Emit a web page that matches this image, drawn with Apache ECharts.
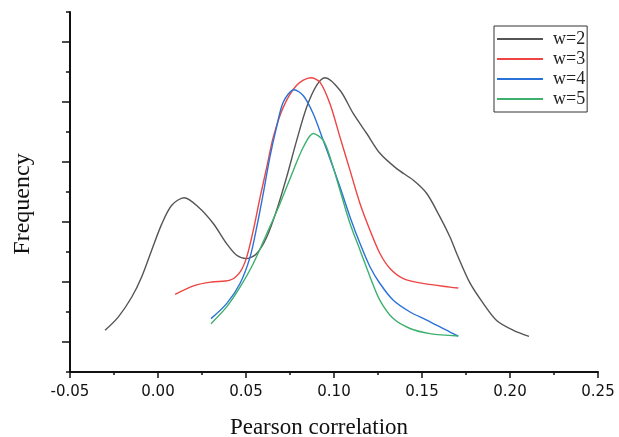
<!DOCTYPE html>
<html>
<head>
<meta charset="utf-8">
<script src="https://cdn.jsdelivr.net/npm/echarts@6/dist/echarts.min.js"></script>
<style>html,body{margin:0;padding:0;background:#fff}#c{width:619px;height:437px}</style>
</head>
<body>
<div id="c"></div>
<script>
var seriesNames = ['w=2', 'w=3', 'w=4', 'w=5'];
var xTickValues = [-0.05, 0, 0.05, 0.10, 0.15, 0.20, 0.25];

var w2X = [-0.0301,-0.0226,-0.0149,-0.0093,-0.0036,0.0021,0.0078,0.0149,0.0229,0.0314,0.0390,0.0447,0.0504,0.0561,0.0618,0.0674,0.0731,0.0788,0.0845,0.0902,0.0949,0.1034,0.1110,0.1186,0.1261,0.1356,0.1451,0.1527,0.1602,0.1659,0.1697,0.1773,0.1849,0.1924,0.2019,0.2108];
var w2Y = [1.39,1.83,2.50,3.17,4.06,4.93,5.56,5.81,5.50,4.95,4.28,3.89,3.78,3.95,4.50,5.39,6.50,7.72,8.83,9.56,9.81,9.39,8.61,7.95,7.29,6.78,6.39,5.95,5.17,4.50,3.95,2.96,2.28,1.72,1.39,1.19];

var w3X = [0.0097,0.0210,0.0305,0.0409,0.0466,0.0504,0.0541,0.0580,0.0618,0.0655,0.0712,0.0788,0.0868,0.0920,0.0977,0.1034,0.1091,0.1148,0.1205,0.1261,0.1318,0.1394,0.1489,0.1659,0.1706];
var w3Y = [2.59,2.89,3.00,3.06,3.33,3.83,4.71,5.82,6.83,7.83,8.83,9.56,9.81,9.66,8.94,7.83,6.72,5.61,4.72,3.95,3.45,3.11,2.97,2.83,2.80];

var w4X = [0.0301,0.0390,0.0466,0.0523,0.0561,0.0598,0.0636,0.0674,0.0712,0.0773,0.0826,0.0882,0.0939,0.0977,0.1034,0.1091,0.1148,0.1205,0.1261,0.1337,0.1432,0.1527,0.1659,0.1706];
var w4Y = [1.78,2.28,2.95,3.83,4.83,5.95,7.17,8.17,9.00,9.41,9.21,8.61,7.72,7.11,6.17,5.17,4.28,3.50,2.95,2.39,2.00,1.73,1.33,1.20];

var w5X = [0.0301,0.0390,0.0466,0.0541,0.0618,0.0693,0.0769,0.0826,0.0882,0.0939,0.0977,0.1034,0.1091,0.1148,0.1205,0.1261,0.1337,0.1432,0.1545,0.1706];
var w5Y = [1.61,2.17,2.83,3.61,4.61,5.61,6.72,7.50,7.95,7.72,7.17,6.06,4.95,4.06,3.17,2.39,1.78,1.45,1.28,1.20];

var colors = ['#555555', '#EE4444', '#2A72D8', '#3DB06E'];

function pairs(xs, ys) { return xs.map(function (x, i) { return [x, ys[i]]; }); }
var allX = [w2X, w3X, w4X, w5X];
var allY = [w2Y, w3Y, w4Y, w5Y];

var chart = echarts.init(document.getElementById('c'), null, { renderer: 'canvas' });
var axisBlack = '#111';
chart.setOption({
  animation: false,
  backgroundColor: '#fff',
  grid: [
    { left: 70, right: 21, top: 12, bottom: 65, containLabel: false, outerBoundsMode: 'none' },
    { left: 70, right: 21, top: 42, bottom: 95, containLabel: false, outerBoundsMode: 'none' }
  ],
  legend: {
    left: 494, top: 26, orient: 'vertical',
    data: seriesNames,
    icon: 'rect', itemWidth: 46, itemHeight: 2, itemGap: 0,
    padding: [3, 2, 3, 3],
    borderColor: '#333', borderWidth: 1,
    textStyle: { fontFamily: 'Liberation Serif', fontSize: 18, color: '#222', lineHeight: 20, padding: [0, 0, 0, 5] }
  },
  xAxis: [
    {
      gridIndex: 0, type: 'value', min: -0.05, max: 0.25, interval: 0.05,
      name: 'Pearson correlation', nameLocation: 'middle', nameGap: 44,
      nameTextStyle: { fontFamily: 'Liberation Serif', fontSize: 23, color: '#111', padding: [0, 30, 0, 0] },
      axisLine: { show: true, onZero: false, lineStyle: { color: axisBlack, width: 2 } },
      axisTick: { show: true, length: 6, lineStyle: { color: axisBlack, width: 1.5 } },
      minorTick: { show: true, splitNumber: 2, length: 3, lineStyle: { color: axisBlack, width: 1.5 } },
      axisLabel: { margin: 13, fontFamily: 'DejaVu Sans', fontSize: 15, color: '#111',
        formatter: function (v) { return v.toFixed(2); } },
      splitLine: { show: false }
    },
    { gridIndex: 1, type: 'value', min: 0, max: 1, show: false }
  ],
  yAxis: [
    {
      gridIndex: 0, type: 'value', min: 0, max: 12, interval: 1,
      name: 'Frequency', nameLocation: 'middle', nameGap: 35,
      nameTextStyle: { fontFamily: 'Liberation Serif', fontSize: 24, color: '#111', padding: [0, 24, 0, 0] },
      axisLine: { show: true, onZero: false, lineStyle: { color: axisBlack, width: 2 } },
      axisTick: { show: true, length: 4, lineStyle: { color: axisBlack, width: 1.5 } },
      axisLabel: { show: false },
      splitLine: { show: false }
    },
    {
      gridIndex: 1, type: 'value', min: 0, max: 10, interval: 2,
      axisLine: { show: false },
      axisTick: { show: true, length: 8, lineStyle: { color: axisBlack, width: 1.5 } },
      axisLabel: { show: false },
      splitLine: { show: false }
    }
  ],
  series: seriesNames.map(function (n, i) {
    return {
      name: n, type: 'line', xAxisIndex: 0, yAxisIndex: 0,
      data: pairs(allX[i], allY[i]),
      smooth: 0.3, symbol: 'none', showSymbol: false,
      lineStyle: { color: colors[i], width: 1.4 },
      itemStyle: { color: colors[i] }
    };
  })
});
</script>
</body>
</html>
